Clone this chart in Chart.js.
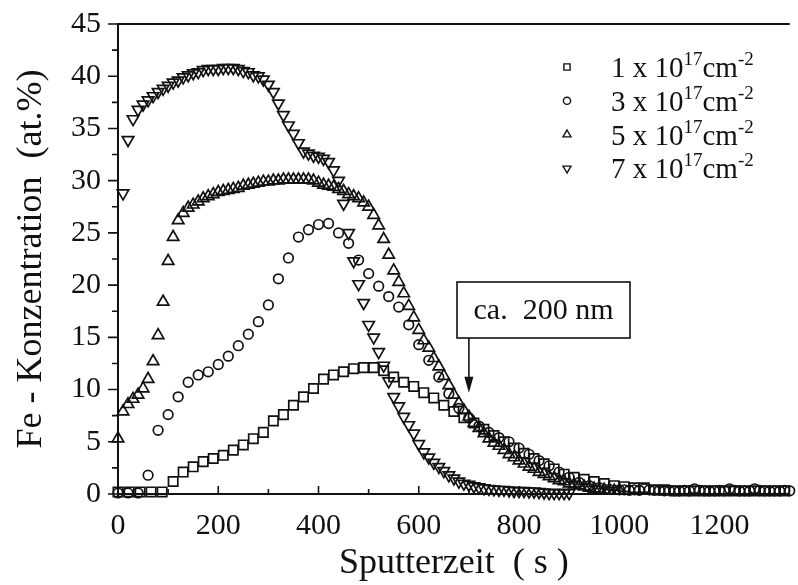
<!DOCTYPE html>
<html>
<head>
<meta charset="utf-8">
<script src="https://cdn.jsdelivr.net/npm/chart.js@4.4.0/dist/chart.umd.min.js"></script>
<style>
  html, body { margin: 0; padding: 0; background: #fff; overflow: hidden; }
  #wrap { width: 798px; height: 585px; }
</style>
</head>
<body>
<div id="wrap"><canvas id="graficaPerfil" width="798" height="585"></canvas></div>
<script>
// Sputterzeit (s) und Fe-Konzentration (at.%) je Dosis
const zeit1 = [0, 22, 44, 66, 88, 110, 130, 150, 170, 190, 210, 230, 250, 270, 290, 310, 330, 350, 370, 390,
  410, 430, 450, 470, 490, 510, 530, 550, 570, 590, 610, 630, 650, 670, 690, 710, 730, 750, 770, 790,
  810, 830, 850, 870, 890, 910, 930, 950, 970, 990, 1010, 1030, 1050, 1070, 1090, 1110, 1130, 1150, 1170, 1190,
  1210, 1230, 1250, 1270, 1290, 1310, 1330];
const fe1 = [0.2, 0.2, 0.2, 0.2, 0.2, 1.2, 2.1, 2.6, 3.1, 3.4, 3.7, 4.2, 4.7, 5.3, 5.9, 7.0, 7.6, 8.5, 9.3, 10.1,
  11.0, 11.4, 11.7, 12.0, 12.1, 12.1, 11.8, 11.2, 10.7, 10.3, 9.7, 9.2, 8.5, 7.9, 7.3, 6.8, 6.2, 5.6, 5.0, 4.4,
  3.9, 3.4, 2.9, 2.4, 1.9, 1.6, 1.4, 1.2, 1.0, 0.8, 0.7, 0.6, 0.6, 0.4, 0.4, 0.3, 0.3, 0.3, 0.3, 0.3,
  0.3, 0.3, 0.3, 0.3, 0.3, 0.3, 0.3];

const zeit3 = [0, 20, 40, 60, 80, 100, 120, 140, 160, 180, 200, 220, 240, 260, 280, 300, 320, 340, 360, 380,
  400, 420, 440, 460, 480, 500, 520, 540, 560, 580, 600, 620, 640, 660, 680, 700, 720, 740, 760, 780,
  800, 820, 840, 860, 880, 900, 920, 940, 960, 980, 1000, 1010, 1020, 1030, 1040, 1050, 1060, 1070, 1080, 1090,
  1100, 1110, 1120, 1130, 1140, 1150, 1160, 1170, 1180, 1190, 1200, 1210, 1220, 1230, 1240, 1250, 1260, 1270, 1280, 1290,
  1300, 1310, 1320, 1330, 1340];
const fe3 = [0.1, 0.1, 0.1, 1.8, 6.1, 7.6, 9.3, 10.7, 11.4, 11.7, 12.4, 13.2, 14.2, 15.3, 16.5, 18.1, 20.6, 22.6, 24.6, 25.3,
  25.8, 25.9, 25.0, 24.0, 22.4, 21.1, 19.9, 18.9, 17.9, 16.2, 14.3, 12.8, 11.2, 9.6, 8.2, 7.3, 6.5, 5.9, 5.4, 5.0,
  4.4, 3.8, 3.2, 2.7, 2.1, 1.6, 1.1, 0.8, 0.6, 0.45, 0.4, 0.4, 0.35, 0.4, 0.35, 0.5, 0.4, 0.35, 0.35, 0.3,
  0.35, 0.3, 0.3, 0.35, 0.3, 0.5, 0.35, 0.3, 0.3, 0.3, 0.35, 0.3, 0.5, 0.35, 0.3, 0.3, 0.3, 0.5, 0.35, 0.3,
  0.3, 0.3, 0.3, 0.35, 0.3];

const zeit5 = [0, 10, 20, 30, 40, 50, 60, 70, 80, 90, 100, 110, 120, 130, 140, 150, 160, 170, 180, 190,
  200, 210, 220, 230, 240, 250, 260, 270, 280, 290, 300, 310, 320, 330, 340, 350, 360, 370, 380, 390,
  400, 410, 420, 430, 440, 450, 460, 470, 480, 490, 500, 510, 520, 530, 540, 550, 560, 570, 580, 590,
  600, 610, 620, 630, 640, 650, 660, 670, 680, 690, 700, 710, 720, 730, 740, 750, 760, 770, 780, 790,
  800, 810, 820, 830, 840, 850, 860, 870, 880, 890, 900, 910, 920, 930, 940, 950, 960, 970, 980, 990, 1000];
const fe5 = [5.3, 7.9, 8.6, 9.1, 9.5, 10.1, 11.0, 12.7, 15.2, 18.4, 22.3, 24.6, 26.2, 26.9, 27.4, 27.7, 28.0, 28.3, 28.5, 28.7,
  28.9, 29.0, 29.1, 29.2, 29.3, 29.5, 29.6, 29.7, 29.8, 29.9, 29.9, 30.0, 30.0, 30.1, 30.1, 30.1, 30.1, 30.1, 30.1, 30.0,
  29.8, 29.6, 29.5, 29.4, 29.2, 29.0, 28.7, 28.5, 28.3, 27.9, 27.5, 26.7, 25.7, 24.4, 22.9, 21.4, 20.3, 19.2, 18.0, 16.9,
  15.7, 14.7, 14.0, 13.0, 12.2, 11.3, 10.4, 9.5, 8.7, 8.0, 7.4, 6.8, 6.3, 5.8, 5.3, 4.9, 4.6, 4.2, 3.8, 3.5,
  3.2, 2.9, 2.6, 2.4, 2.1, 1.9, 1.7, 1.5, 1.3, 1.2, 1.0, 0.9, 0.8, 0.7, 0.6, 0.5, 0.4, 0.4, 0.3, 0.3, 0.3];

const zeit7 = [10, 20, 30, 40, 50, 60, 70, 80, 90, 100, 110, 120, 130, 140, 150, 160, 170, 180, 190, 200,
  210, 220, 230, 240, 250, 260, 270, 280, 290, 300, 310, 320, 330, 340, 350, 360, 370, 380, 390, 400,
  410, 420, 430, 440, 450, 460, 470, 480, 490, 500, 510, 520, 530, 540, 550, 560, 570, 580, 590, 600,
  610, 620, 630, 640, 650, 660, 670, 680, 690, 700, 710, 720, 730, 740, 750, 760, 770, 780, 790, 800,
  810, 820, 830, 840, 850, 860, 870, 880, 890, 900];
const fe7 = [28.8, 33.9, 35.9, 36.8, 37.3, 37.7, 38.1, 38.5, 38.8, 39.1, 39.4, 39.6, 39.9, 40.1, 40.3, 40.4, 40.6, 40.7, 40.7, 40.7,
  40.8, 40.8, 40.8, 40.7, 40.5, 40.4, 40.1, 40.0, 39.7, 39.2, 38.5, 37.4, 36.3, 35.3, 34.5, 33.6, 32.8, 32.6, 32.4, 32.3,
  32.1, 31.8, 31.0, 30.0, 27.8, 25.0, 22.3, 20.1, 18.3, 16.2, 15.0, 13.6, 12.3, 10.8, 9.3, 8.4, 7.4, 6.6, 5.8, 4.8,
  4.0, 3.5, 3.0, 2.6, 2.2, 1.8, 1.5, 1.2, 1.0, 0.9, 0.75, 0.65, 0.55, 0.5, 0.45, 0.4, 0.4, 0.35, 0.3, 0.3,
  0.3, 0.25, 0.25, 0.2, 0.15, 0.1, 0.1, 0.1, 0.1, 0.1];

const dosen = ['1', '3', '5', '7'];
const xTicks = [0, 200, 400, 600, 800, 1000, 1200];
const yTicks = [0, 5, 10, 15, 20, 25, 30, 35, 40, 45];

const SERIF = '"Liberation Serif", "DejaVu Serif", serif';

const toPoints = (zeit, werte) => zeit.map((t, i) => ({ x: t, y: werte[i] }));

const symbole = [
  { style: 'rect', rot: 0, r: 6.6, rl: 4.4 },
  { style: 'circle', rot: 0, r: 4.8, rl: 3.6 },
  { style: 'triangle', rot: 0, r: 6.6, rl: 4.6 },
  { style: 'triangle', rot: 180, r: 6.6, rl: 4.6 }
];

const serien = [toPoints(zeit1, fe1), toPoints(zeit3, fe3), toPoints(zeit5, fe5), toPoints(zeit7, fe7)];

// Rahmen und Striche (Hauptstriche + Zwischenstriche)
const rahmenPlugin = {
  id: 'rahmen',
  afterDatasetsDraw(chart) {
    const { ctx, chartArea: a, scales: { x, y } } = chart;
    ctx.save();
    ctx.strokeStyle = '#111';
    ctx.lineWidth = 2;
    ctx.beginPath();
    ctx.moveTo(a.left, a.bottom + 4);
    ctx.lineTo(a.left, a.top);
    ctx.lineTo(a.right, a.top);
    ctx.moveTo(a.left, a.bottom);
    ctx.lineTo(a.right, a.bottom);
    ctx.stroke();
    ctx.lineWidth = 1.6;
    ctx.beginPath();
    for (let v = 0; v <= 45; v += 2.5) {
      const py = y.getPixelForValue(v);
      const len = v % 5 === 0 ? 10 : 6;
      ctx.moveTo(a.left - len, py);
      ctx.lineTo(a.left, py);
    }
    for (let v = 100; v <= 1300; v += 100) {
      const px = x.getPixelForValue(v);
      const len = v % 200 === 0 ? 8 : 5;
      ctx.moveTo(px, a.bottom);
      ctx.lineTo(px, a.bottom - len);
    }
    ctx.stroke();
    ctx.restore();
  }
};

// Legende mit Hochzahlen
const legendePlugin = {
  id: 'legende',
  afterDraw(chart) {
    const { ctx } = chart;
    ctx.save();
    dosen.forEach((d, i) => {
      const cy = 67 + i * 33.8;
      const s = symbole[i];
      ctx.fillStyle = 'rgba(0,0,0,0)';
      ctx.strokeStyle = '#111';
      ctx.lineWidth = 1.4;
      Chart.helpers.drawPoint(ctx, { pointStyle: s.style, rotation: s.rot, radius: s.rl, borderWidth: 1.4 }, 567, cy);
      ctx.fillStyle = '#111';
      let tx = 611;
      const base = cy + 10;
      ctx.textBaseline = 'alphabetic';
      ctx.textAlign = 'left';
      ctx.font = '29px ' + SERIF;
      const t1 = d + ' x 10';
      ctx.fillText(t1, tx, base);
      tx += ctx.measureText(t1).width;
      ctx.font = '19px ' + SERIF;
      ctx.fillText('17', tx, base - 12);
      tx += ctx.measureText('17').width;
      ctx.font = '29px ' + SERIF;
      ctx.fillText('cm', tx, base);
      tx += ctx.measureText('cm').width;
      ctx.font = '19px ' + SERIF;
      ctx.fillText('-2', tx, base - 12);
    });
    ctx.restore();
  }
};

// Kasten "ca. 200 nm" mit Pfeil
const hinweisPlugin = {
  id: 'hinweis',
  afterDraw(chart) {
    const { ctx, scales: { x, y } } = chart;
    const ax = x.getPixelForValue(700);
    const tip = y.getPixelForValue(9.7);
    ctx.save();
    ctx.strokeStyle = '#111';
    ctx.fillStyle = '#fff';
    ctx.lineWidth = 1.6;
    ctx.fillRect(457, 282, 173, 56);
    ctx.strokeRect(457, 282, 173, 56);
    ctx.fillStyle = '#111';
    ctx.font = '30px ' + SERIF;
    ctx.textAlign = 'center';
    ctx.textBaseline = 'middle';
    ctx.fillText('ca.  200 nm', 543.5, 311);
    ctx.beginPath();
    ctx.moveTo(ax, 338);
    ctx.lineTo(ax, tip - 14);
    ctx.stroke();
    ctx.beginPath();
    ctx.moveTo(ax - 4.5, tip - 16);
    ctx.lineTo(ax + 4.5, tip - 16);
    ctx.lineTo(ax, tip);
    ctx.closePath();
    ctx.fill();
    ctx.restore();
  }
};

new Chart(document.getElementById('graficaPerfil').getContext('2d'), {
  type: 'scatter',
  data: {
    datasets: serien.map((pts, i) => ({
      label: dosen[i] + ' x 10^17 cm^-2',
      data: pts,
      pointStyle: symbole[i].style,
      rotation: symbole[i].rot,
      pointRadius: symbole[i].r,
      pointHoverRadius: symbole[i].r,
      borderColor: '#111',
      backgroundColor: 'rgba(0,0,0,0)',
      borderWidth: 1.7,
      showLine: false
    }))
  },
  options: {
    responsive: false,
    animation: false,
    devicePixelRatio: 1,
    clip: false,
    layout: { padding: { top: 24, right: 0, left: 0, bottom: 0 } },
    plugins: {
      legend: { display: false },
      tooltip: { enabled: false }
    },
    scales: {
      x: {
        type: 'linear',
        min: 0,
        max: 1340,
        afterBuildTicks: (s) => { s.ticks = xTicks.map(v => ({ value: v })); },
        afterFit: (s) => { s.height = 91; s.paddingLeft = 0; s.paddingRight = 0; },
        grid: { display: false, drawTicks: false },
        border: { display: false },
        ticks: {
          color: '#111',
          padding: 14,
          maxRotation: 0,
          autoSkip: false,
          callback: (v) => String(v),
          font: { family: SERIF, size: 30 }
        },
        title: {
          display: true,
          text: 'Sputterzeit  ( s )',
          color: '#111',
          font: { family: SERIF, size: 36 },
          padding: { top: 0, bottom: 0 }
        }
      },
      y: {
        type: 'linear',
        min: 0,
        max: 45,
        afterBuildTicks: (s) => { s.ticks = yTicks.map(v => ({ value: v })); },
        afterFit: (s) => { s.width = 118; s.paddingTop = 0; s.paddingBottom = 0; },
        grid: { display: false, drawTicks: false },
        border: { display: false },
        ticks: {
          color: '#111',
          padding: 17,
          callback: (v) => String(v),
          font: { family: SERIF, size: 30 }
        },
        title: {
          display: true,
          text: 'Fe - Konzentration  (at.%)',
          color: '#111',
          font: { family: SERIF, size: 36 },
          padding: { top: 10, bottom: 0 }
        }
      }
    }
  },
  plugins: [rahmenPlugin, legendePlugin, hinweisPlugin]
});
</script>
</body>
</html>
